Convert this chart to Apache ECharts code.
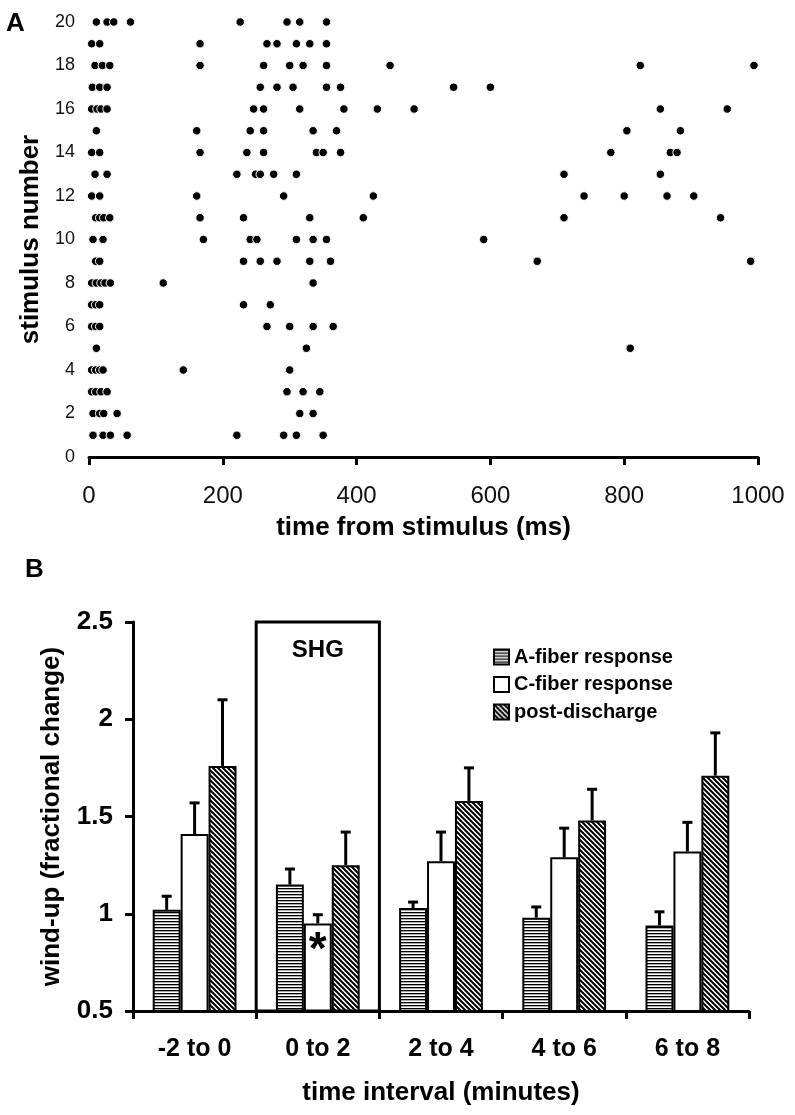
<!DOCTYPE html>
<html><head><meta charset="utf-8">
<script src="https://cdn.jsdelivr.net/npm/echarts@6/dist/echarts.min.js"></script>
<style>html,body{margin:0;padding:0;background:#fff}#c{width:795px;height:1115px}</style>
</head><body><div id="c"></div>
<script>
// ---- Panel A data: spike times (ms) per stimulus number (index 0 -> stimulus 1)
const spikeTimes = [
 [6,21,32,57,221,291,310,350],
 [6,16,22,42,315,335],
 [4,10,18,27,296,320,345],
 [4,10,16,21,141,300],
 [11,325,809],
 [4,10,16,266,300,335,365],
 [4,10,16,231,271],
 [4,11,18,24,32,111,335],
 [10,16,231,256,281,330,361,670,989],
 [6,21,171,241,251,310,335,355,590],
 [10,16,22,31,166,231,330,410,710,944],
 [4,16,161,291,425,740,800,864,904],
 [9,27,221,249,256,276,310,710,854],
 [4,16,166,236,261,340,350,376,780,869,879],
 [11,161,241,261,335,370,804,884],
 [4,12,18,27,246,261,315,381,431,486,854,954],
 [5,16,27,256,281,305,355,376,545,600],
 [9,20,31,166,261,300,320,355,450,824,994],
 [4,16,166,266,281,310,330,355],
 [11,27,37,62,226,296,315,355]
];

// ---- Panel B data
const intervals = ['-2 to 0', '0 to 2', '2 to 4', '4 to 6', '6 to 8'];
const seriesNames = ['A-fiber response', 'C-fiber response', 'post-discharge'];
const aFiber = [1.02, 1.15, 1.03, 0.98, 0.94];
const aFiberErr = [0.07, 0.08, 0.03, 0.055, 0.07];
const cFiber = [1.41, 0.95, 1.27, 1.29, 1.32];
const cFiberErr = [0.16, 0.045, 0.15, 0.15, 0.15];
const postDischarge = [1.76, 1.25, 1.58, 1.48, 1.71];
const postDischargeErr = [0.34, 0.17, 0.17, 0.16, 0.22];
const shgInterval = '0 to 2';
const starInterval = '0 to 2';

const FONT = '"Liberation Sans", Arial, sans-serif';

function hPattern(){
  const c = document.createElement('canvas'); c.width = 4; c.height = 3;
  const g = c.getContext('2d');
  g.fillStyle = '#fff'; g.fillRect(0,0,4,3);
  g.fillStyle = '#000'; g.fillRect(0,0,4,1);
  g.fillStyle = '#aaa'; g.fillRect(0,1,4,1);
  return c;
}
function dPattern(){
  const s = 5; const c = document.createElement('canvas'); c.width = s; c.height = s;
  const g = c.getContext('2d');
  g.fillStyle = '#fff'; g.fillRect(0,0,s,s);
  g.strokeStyle = '#000'; g.lineWidth = 2;
  g.beginPath();
  g.moveTo(-2,-2); g.lineTo(s+2,s+2);
  g.moveTo(-2,s-2); g.lineTo(2,s+2);
  g.moveTo(s-2,-2); g.lineTo(s+2,2);
  g.stroke();
  return c;
}

const scatterData = [];
spikeTimes.forEach((times, i) => times.forEach(t => scatterData.push([t, i + 1])));

const catGap = 0.32;
function errSeries(vals, errs, k){
  return {
    type: 'custom', xAxisIndex: 1, yAxisIndex: 1, z: 5, silent: true,
    encode: {x: 0, y: [1, 2]},
    data: vals.map((v, i) => [i, v, +(v + errs[i]).toFixed(3)]),
    renderItem(params, api){
      const i = api.value(0);
      const p1 = api.coord([i, api.value(1)]);
      const p2 = api.coord([i, api.value(2)]);
      const band = api.size([1, 0])[0];
      const bw = band * (1 - catGap) / 3;
      const x = p1[0] + (k - 1) * bw;
      return {type: 'group', children: [
        {type: 'line', shape: {x1: x, y1: p1[1], x2: x, y2: p2[1]}, style: {stroke: '#000', lineWidth: 3}},
        {type: 'line', shape: {x1: x - 5, y1: p2[1], x2: x + 5, y2: p2[1]}, style: {stroke: '#000', lineWidth: 3}}
      ]};
    }
  };
}

const chart = echarts.init(document.getElementById('c'), null, {renderer: 'canvas'});
const hp = {image: hPattern(), repeat: 'repeat'};
const dp = {image: dPattern(), repeat: 'repeat'};

chart.setOption({
  backgroundColor: '#fff',
  animation: false,
  textStyle: {fontFamily: FONT},
  graphic: [
    {type: 'text', left: 6, top: 11, style: {text: 'A', font: 'bold 26px ' + FONT, fill: '#000'}},
    {type: 'text', left: 25, top: 557, style: {text: 'B', font: 'bold 26px ' + FONT, fill: '#000'}}
  ],
  grid: [
    {left: 89, right: 37, top: 22, bottom: 658},
    {left: 133, right: 46, top: 622, bottom: 104}
  ],
  legend: {
    data: seriesNames, orient: 'vertical', left: 493, top: 647, padding: 0,
    itemWidth: 15, itemHeight: 15, itemGap: 7.5, icon: 'rect',
    textStyle: {fontFamily: FONT, fontWeight: 'bold', fontSize: 20, color: '#000'},
    selectedMode: false
  },
  xAxis: [
    {gridIndex: 0, type: 'value', min: 0, max: 1000, interval: 200,
     name: 'time from stimulus (ms)', nameLocation: 'middle', nameGap: 58,
     nameTextStyle: {fontFamily: FONT, fontWeight: 'bold', fontSize: 26, color: '#000'},
     axisLine: {show: true, lineStyle: {color: '#000', width: 3}},
     axisTick: {show: true, length: 8, lineStyle: {color: '#000', width: 3}},
     axisLabel: {fontFamily: FONT, fontSize: 24, color: '#111', margin: 27, formatter: v => String(v)},
     splitLine: {show: false}},
    {gridIndex: 1, type: 'category', data: intervals,
     name: 'time interval (minutes)', nameLocation: 'middle', nameGap: 69,
     nameTextStyle: {fontFamily: FONT, fontWeight: 'bold', fontSize: 26, color: '#000'},
     axisLine: {show: true, lineStyle: {color: '#000', width: 3}},
     axisTick: {show: true, length: 8, lineStyle: {color: '#000', width: 3}},
     axisLabel: {fontFamily: FONT, fontWeight: 'bold', fontSize: 25, color: '#000', margin: 26},
     splitLine: {show: false}}
  ],
  yAxis: [
    {gridIndex: 0, type: 'value', min: 0, max: 20, interval: 2,
     name: 'stimulus number', nameLocation: 'middle', nameGap: 34, nameRotate: 90,
     nameTextStyle: {fontFamily: FONT, fontWeight: 'bold', fontSize: 26, color: '#000'},
     axisLine: {show: false}, axisTick: {show: false},
     axisLabel: {fontFamily: FONT, fontSize: 18, color: '#111', margin: 14},
     splitLine: {show: false}},
    {gridIndex: 1, type: 'value', min: 0.5, max: 2.5, interval: 0.5,
     name: 'wind-up (fractional change)', nameLocation: 'middle', nameGap: 68, nameRotate: 90,
     nameTextStyle: {fontFamily: FONT, fontWeight: 'bold', fontSize: 26, color: '#000'},
     axisLine: {show: true, lineStyle: {color: '#000', width: 3}},
     axisTick: {show: true, length: 8, lineStyle: {color: '#000', width: 3}},
     axisLabel: {fontFamily: FONT, fontWeight: 'bold', fontSize: 26, color: '#000', margin: 20},
     splitLine: {show: false}}
  ],
  series: [
    {type: 'scatter', xAxisIndex: 0, yAxisIndex: 0, data: scatterData,
     symbol: 'circle', symbolSize: 8.5,
     itemStyle: {color: '#000', borderColor: '#fff', borderWidth: 1, opacity: 1}},
    {name: seriesNames[0], type: 'bar', xAxisIndex: 1, yAxisIndex: 1, data: aFiber,
     barGap: '0%', barCategoryGap: (catGap * 100) + '%',
     itemStyle: {color: hp, borderColor: '#000', borderWidth: 2}},
    {name: seriesNames[1], type: 'bar', xAxisIndex: 1, yAxisIndex: 1,
     data: cFiber.map((v, i) => intervals[i] === starInterval ?
       {value: v, label: {show: true, position: 'insideTop', distance: 5, formatter: '*',
        fontFamily: FONT, fontWeight: 'bold', fontSize: 46, color: '#000'}} : v),
     barGap: '0%', barCategoryGap: (catGap * 100) + '%',
     itemStyle: {color: '#fff', borderColor: '#000', borderWidth: 2}},
    {name: seriesNames[2], type: 'bar', xAxisIndex: 1, yAxisIndex: 1, data: postDischarge,
     barGap: '0%', barCategoryGap: (catGap * 100) + '%',
     itemStyle: {color: dp, borderColor: '#000', borderWidth: 2}},
    errSeries(aFiber, aFiberErr, 0),
    errSeries(cFiber, cFiberErr, 1),
    errSeries(postDischarge, postDischargeErr, 2),
    {type: 'custom', xAxisIndex: 1, yAxisIndex: 1, z: 6, silent: true,
     encode: {x: 0, y: [1, 2]},
     data: [[intervals.indexOf(shgInterval), 0.5, 2.5]],
     renderItem(params, api){
       const p1 = api.coord([api.value(0), api.value(1)]);
       const p2 = api.coord([api.value(0), api.value(2)]);
       const band = api.size([1, 0])[0];
       return {type: 'group', children: [
         {type: 'rect', shape: {x: p1[0] - band / 2, y: p2[1], width: band, height: p1[1] - p2[1]},
          style: {fill: 'none', stroke: '#000', lineWidth: 3}},
         {type: 'text', style: {text: 'SHG', x: p1[0], y: p2[1] + 16, align: 'center', verticalAlign: 'top',
          font: 'bold 24px ' + FONT, fill: '#000'}}
       ]};
     }}
  ]
});
</script></body></html>
